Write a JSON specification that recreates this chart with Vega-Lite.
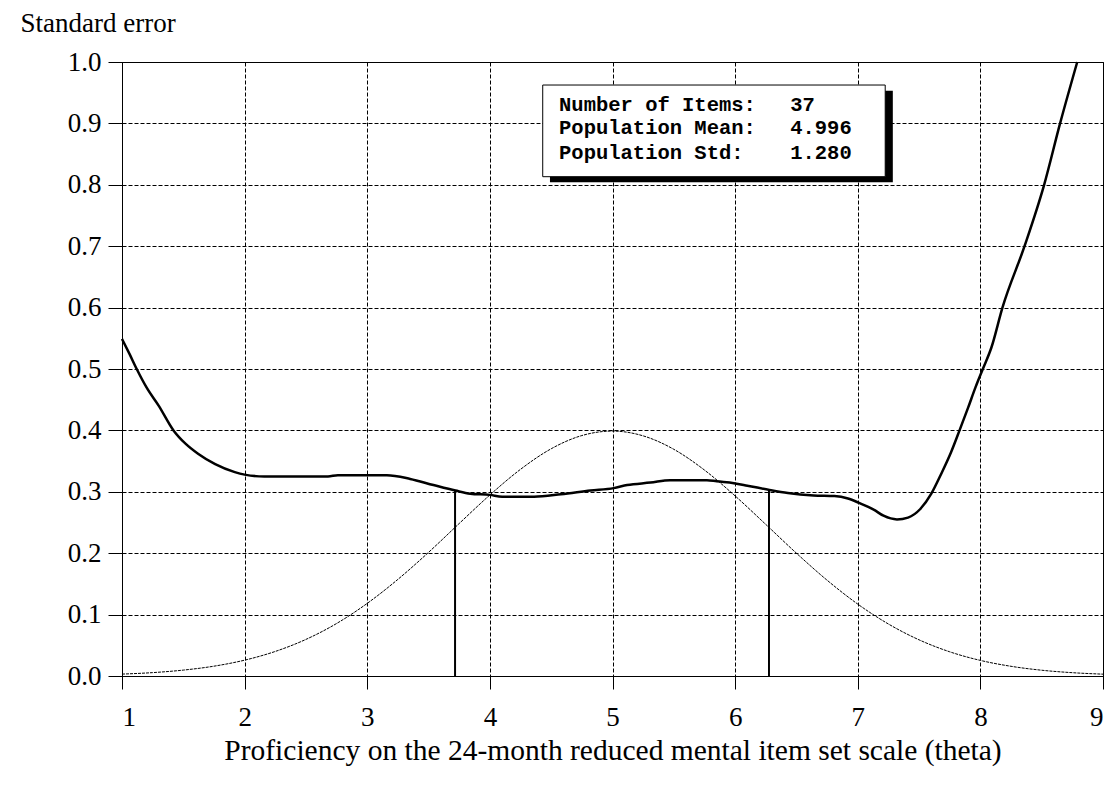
{
  "$schema": "https://vega.github.io/schema/vega-lite/v6.json",
  "width": 981,
  "height": 614,
  "autosize": "none",
  "padding": {"left": 122, "top": 62, "right": 13, "bottom": 116},
  "background": "white",
  "config": {
    "view": {"stroke": "black", "strokeWidth": 1},
    "axis": {
      "domainColor": "black", "tickColor": "black", "labelColor": "black", "titleColor": "black",
      "labelFont": "Liberation Serif", "titleFont": "Liberation Serif",
      "labelFontSize": 27, "titleFontSize": 28, "titleFontWeight": "normal",
      "gridColor": "black", "gridDash": [4, 2], "gridWidth": 1, "gridOpacity": 1
    }
  },
  "datasets": {
    "se": [
      {"theta": 1.00, "se": 0.549}, {"theta": 1.06, "se": 0.525}, {"theta": 1.12, "se": 0.500},
      {"theta": 1.20, "se": 0.470}, {"theta": 1.30, "se": 0.440}, {"theta": 1.42, "se": 0.400},
      {"theta": 1.52, "se": 0.378}, {"theta": 1.62, "se": 0.362}, {"theta": 1.76, "se": 0.345},
      {"theta": 1.92, "se": 0.332}, {"theta": 2.00, "se": 0.328}, {"theta": 2.16, "se": 0.325},
      {"theta": 2.40, "se": 0.325}, {"theta": 2.68, "se": 0.325}, {"theta": 2.76, "se": 0.327},
      {"theta": 3.00, "se": 0.327}, {"theta": 3.16, "se": 0.327}, {"theta": 3.35, "se": 0.321},
      {"theta": 3.54, "se": 0.311}, {"theta": 3.72, "se": 0.302}, {"theta": 3.84, "se": 0.297},
      {"theta": 4.00, "se": 0.295}, {"theta": 4.10, "se": 0.292}, {"theta": 4.36, "se": 0.292},
      {"theta": 4.58, "se": 0.296}, {"theta": 4.82, "se": 0.302}, {"theta": 5.01, "se": 0.306},
      {"theta": 5.12, "se": 0.311}, {"theta": 5.31, "se": 0.315}, {"theta": 5.47, "se": 0.319},
      {"theta": 5.77, "se": 0.319}, {"theta": 5.85, "se": 0.317}, {"theta": 5.99, "se": 0.314},
      {"theta": 6.10, "se": 0.310}, {"theta": 6.28, "se": 0.303}, {"theta": 6.43, "se": 0.298},
      {"theta": 6.64, "se": 0.294}, {"theta": 6.81, "se": 0.293}, {"theta": 6.92, "se": 0.289},
      {"theta": 7.01, "se": 0.282}, {"theta": 7.13, "se": 0.271}, {"theta": 7.21, "se": 0.261},
      {"theta": 7.32, "se": 0.255}, {"theta": 7.41, "se": 0.258}, {"theta": 7.51, "se": 0.272},
      {"theta": 7.60, "se": 0.297}, {"theta": 7.68, "se": 0.329}, {"theta": 7.76, "se": 0.364},
      {"theta": 7.83, "se": 0.400}, {"theta": 7.90, "se": 0.437}, {"theta": 7.96, "se": 0.470},
      {"theta": 8.02, "se": 0.500}, {"theta": 8.09, "se": 0.535}, {"theta": 8.18, "se": 0.600},
      {"theta": 8.36, "se": 0.700}, {"theta": 8.52, "se": 0.800}, {"theta": 8.65, "se": 0.900},
      {"theta": 8.79, "se": 1.000}
    ],
    "normal": [
      {"theta": 1.00, "se": 0.0031}, {"theta": 1.25, "se": 0.0055}, {"theta": 1.50, "se": 0.0096},
      {"theta": 1.75, "se": 0.0160}, {"theta": 2.00, "se": 0.0258}, {"theta": 2.25, "se": 0.0400},
      {"theta": 2.50, "se": 0.0596}, {"theta": 2.75, "se": 0.0855}, {"theta": 3.00, "se": 0.1183},
      {"theta": 3.25, "se": 0.1574}, {"theta": 3.50, "se": 0.2014}, {"theta": 3.75, "se": 0.2484},
      {"theta": 4.00, "se": 0.2948}, {"theta": 4.25, "se": 0.3366}, {"theta": 4.50, "se": 0.3701},
      {"theta": 4.75, "se": 0.3916}, {"theta": 5.00, "se": 0.3989}, {"theta": 5.25, "se": 0.3911},
      {"theta": 5.50, "se": 0.3692}, {"theta": 5.75, "se": 0.3354}, {"theta": 6.00, "se": 0.2933},
      {"theta": 6.25, "se": 0.2469}, {"theta": 6.50, "se": 0.2000}, {"theta": 6.75, "se": 0.1560},
      {"theta": 7.00, "se": 0.1171}, {"theta": 7.25, "se": 0.0847}, {"theta": 7.50, "se": 0.0589},
      {"theta": 7.75, "se": 0.0394}, {"theta": 8.00, "se": 0.0254}, {"theta": 8.25, "se": 0.0158},
      {"theta": 8.50, "se": 0.0094}, {"theta": 8.75, "se": 0.0054}, {"theta": 9.00, "se": 0.0030}
    ],
    "vlines": [
      {"theta": 3.716, "se": 0.302, "base": 0},
      {"theta": 6.276, "se": 0.303, "base": 0}
    ],
    "shadow": [{"theta": 4.49, "theta2": 7.286, "se": 0.953, "se2": 0.804}],
    "box": [{"theta": 4.431, "theta2": 7.224, "se": 0.9625, "se2": 0.8132}],
    "labels": [
      {"theta": 4.564, "se": 0.930, "label": "Number of Items:"},
      {"theta": 4.564, "se": 0.8925, "label": "Population Mean:"},
      {"theta": 4.564, "se": 0.852, "label": "Population Std:"},
      {"theta": 6.449, "se": 0.930, "label": "37"},
      {"theta": 6.449, "se": 0.8925, "label": "4.996"},
      {"theta": 6.449, "se": 0.852, "label": "1.280"}
    ]
  },
  "layer": [
    {
      "data": {"name": "normal"},
      "mark": {"type": "line", "color": "black", "strokeWidth": 1, "strokeDash": [3, 1], "interpolate": "monotone"},
      "encoding": {
        "x": {
          "field": "theta", "type": "quantitative",
          "scale": {"domain": [1, 9], "nice": false, "zero": false},
          "axis": {
            "values": [1, 2, 3, 4, 5, 6, 7, 8, 9], "format": "d", "grid": true, "tickSize": 13, "labelPadding": 15,
            "title": "Proficiency on the 24-month reduced mental item set scale (theta)",
            "titleFontSize": 29.5, "titlePadding": 6
          }
        },
        "y": {
          "field": "se", "type": "quantitative",
          "scale": {"domain": [0, 1], "nice": false},
          "axis": {
            "values": [0, 0.1, 0.2, 0.3, 0.4, 0.5, 0.6, 0.7, 0.8, 0.9, 1.0], "format": ".1f",
            "grid": true, "tickSize": 14, "labelPadding": 7,
            "title": "Standard error", "titleAngle": 0, "titleAlign": "left", "titleBaseline": "alphabetic",
            "titleFontSize": 27, "titleX": -102, "titleY": -31
          }
        }
      }
    },
    {
      "data": {"name": "se"},
      "mark": {"type": "line", "color": "black", "strokeWidth": 2.5, "interpolate": "monotone"},
      "encoding": {
        "x": {"field": "theta", "type": "quantitative"},
        "y": {"field": "se", "type": "quantitative"}
      }
    },
    {
      "data": {"name": "vlines"},
      "mark": {"type": "rule", "color": "black", "strokeWidth": 2},
      "encoding": {
        "x": {"field": "theta", "type": "quantitative"},
        "y": {"field": "se", "type": "quantitative"},
        "y2": {"field": "base"}
      }
    },
    {
      "data": {"name": "shadow"},
      "mark": {"type": "rect", "color": "black", "opacity": 1},
      "encoding": {
        "x": {"field": "theta", "type": "quantitative"},
        "x2": {"field": "theta2"},
        "y": {"field": "se", "type": "quantitative"},
        "y2": {"field": "se2"}
      }
    },
    {
      "data": {"name": "box"},
      "mark": {"type": "rect", "fill": "white", "stroke": "black", "strokeWidth": 1, "opacity": 1},
      "encoding": {
        "x": {"field": "theta", "type": "quantitative"},
        "x2": {"field": "theta2"},
        "y": {"field": "se", "type": "quantitative"},
        "y2": {"field": "se2"}
      }
    },
    {
      "data": {"name": "labels"},
      "mark": {"type": "text", "font": "Liberation Mono", "fontWeight": "bold", "fontSize": 20.5, "align": "left", "baseline": "middle", "color": "black"},
      "encoding": {
        "x": {"field": "theta", "type": "quantitative"},
        "y": {"field": "se", "type": "quantitative"},
        "text": {"field": "label"}
      }
    }
  ]
}
